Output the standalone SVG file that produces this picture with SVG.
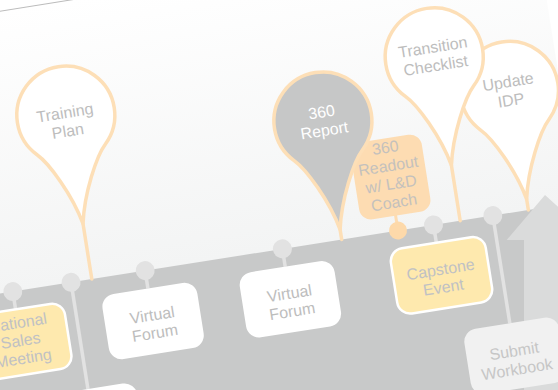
<svg xmlns="http://www.w3.org/2000/svg" width="558" height="390" viewBox="0 0 558 390">
  <defs>
    <linearGradient id="panelFill" gradientUnits="userSpaceOnUse" x1="0" y1="11" x2="0" y2="290">
      <stop offset="0" stop-color="#ffffff"/>
      <stop offset="1" stop-color="#f3f4f4"/>
    </linearGradient>
    <!-- balloon marker: round head with a tapering tail, head centred on 0,0 -->
    <path id="balloon" d="M0,110 C-6,80 -24,45 -34.65,34.65 A49,49 0 1 1 34.65,34.65 C24,45 6,80 0,110 Z"/>
  </defs>
  <style>
    text { font-family: "Liberation Sans", Arial, sans-serif; font-size: 16px; text-anchor: middle; fill: #bdbdbd; }
    .balloon { fill: #ffffff; stroke: #fddfb7; stroke-width: 3.5; stroke-linejoin: round; }
    .balloon.dark { fill: #c6c7c7; }
    .tail { stroke: #fddfb7; stroke-width: 3.5; stroke-linecap: round; }
    .knob { fill: #e2e2e2; }
    .knob.warm { fill: #fdd9aa; }
    .stem { stroke: #e2e2e2; stroke-width: 3.5; }
    .stem.warm { stroke: #fddcb2; stroke-width: 3; }
    .card { fill: #ffffff; }
    .card.hi { fill: #fee9ae; stroke: #ffffff; stroke-width: 2.5; }
    .card.muted { fill: #f1f1f1; }
    .card.warm { fill: #fddcb2; }
    .on-hi { fill: #c0c1c4; }
    .on-warm { fill: #c4c1bd; }
    .on-muted { fill: #c6c6c6; }
    .on-dark { fill: #ffffff; }
  </style>

  <rect width="558" height="390" fill="#ffffff"/>

  <!-- backdrop panel and the timeline track -->
  <g id="backdrop" transform="rotate(-9)">
    <rect x="-120" y="11" width="660" height="290" fill="url(#panelFill)"/>
    <line x1="-120" y1="11" x2="540" y2="11" stroke="#bcbcbc" stroke-width="1"/>
    <rect id="track" x="-120" y="290" width="620" height="260" fill="#c8c9c9"/>
  </g>

  <!-- upward arrow at the end of the track -->
  <polygon id="track-arrow" points="506.7,240 545,195 560,208.5 560,392 524,392 524,240" fill="#dadbdb"/>

  <g id="timeline" transform="rotate(-9)">
    <!-- balloons above the track -->
    <g id="training-plan">
      <use href="#balloon" class="balloon" transform="translate(47,124)"/>
      <line class="tail" x1="47" y1="234" x2="47" y2="290"/>
      <text x="46.5" y="127">Training</text>
      <text x="46.5" y="145.5">Plan</text>
    </g>

    <g id="update-idp">
      <use href="#balloon" class="balloon" transform="translate(489,169)"/>
      <line class="tail" x1="489" y1="279" x2="489" y2="290"/>
      <text x="489" y="165.7">Update</text>
      <text x="489" y="184.5">IDP</text>
    </g>

    <g id="transition-checklist">
      <use href="#balloon" class="balloon" transform="translate(420,124)"/>
      <line class="tail" x1="420" y1="234" x2="420" y2="290"/>
      <text x="420" y="119.8">Transition</text>
      <text x="420" y="138.4">Checklist</text>
    </g>

    <!-- connectors between track knobs and cards -->
    <g id="connectors">
      <line class="stem" x1="-33" y1="290" x2="-33" y2="308"/>
      <line class="stem" x1="26" y1="290" x2="26" y2="398"/>
      <line class="stem" x1="101" y1="290" x2="101" y2="308"/>
      <line class="stem" x1="240" y1="290" x2="240" y2="308"/>
      <line class="stem" x1="393" y1="290" x2="393" y2="308"/>
      <line class="stem" x1="453" y1="290" x2="453" y2="399"/>
      <line class="stem warm" x1="357" y1="274" x2="357" y2="290"/>
    </g>

    <!-- knobs sitting on the track edge -->
    <g id="knobs">
      <circle class="knob" cx="-33" cy="290" r="9.5"/>
      <circle class="knob" cx="26" cy="290" r="9.5"/>
      <circle class="knob" cx="101" cy="290" r="9.5"/>
      <circle class="knob" cx="240" cy="290" r="9.5"/>
      <circle class="knob" cx="393" cy="290" r="9.5"/>
      <circle class="knob" cx="453" cy="290" r="9.5"/>
      <circle class="knob warm" cx="357" cy="290" r="9"/>
    </g>

    <g id="readout-coach">
      <rect class="card warm" x="322" y="197" width="72" height="78" rx="12"/>
      <text class="on-warm" x="357.5" y="211.5">360</text>
      <text class="on-warm" x="357.5" y="230">Readout</text>
      <text class="on-warm" x="357.5" y="248.5">w/ L&amp;D</text>
      <text class="on-warm" x="357.5" y="267">Coach</text>
    </g>

    <g id="report-360">
      <use href="#balloon" class="balloon dark" transform="translate(300,170)"/>
      <line class="tail" x1="300" y1="280" x2="300" y2="290"/>
      <text class="on-dark" x="300" y="166.5">360</text>
      <text class="on-dark" x="300" y="185">Report</text>
    </g>

    <!-- cards below the track -->
    <g id="sales-meeting">
      <rect class="card hi" x="-81" y="308" width="96" height="66" rx="13"/>
      <text class="on-hi" x="-33" y="327">National</text>
      <text class="on-hi" x="-33" y="345">Sales</text>
      <text class="on-hi" x="-33" y="363">Meeting</text>
    </g>

    <g id="virtual-forum-1">
      <rect class="card" x="53" y="308" width="96" height="66" rx="13"/>
      <text x="101" y="340.5">Virtual</text>
      <text x="101" y="358.5">Forum</text>
    </g>

    <g id="virtual-forum-2">
      <rect class="card" x="192" y="308" width="96" height="66" rx="13"/>
      <text x="240" y="340.5">Virtual</text>
      <text x="240" y="358.5">Forum</text>
    </g>

    <g id="capstone-event">
      <rect class="card hi" x="345" y="308" width="96" height="66" rx="13"/>
      <text class="on-hi" x="393" y="340.5">Capstone</text>
      <text class="on-hi" x="393" y="358.5">Event</text>
    </g>

    <g id="lower-card">
      <rect class="card" x="-22" y="398" width="96" height="66" rx="13"/>
    </g>

    <g id="submit-workbook">
      <rect class="card muted" x="405" y="399" width="96" height="66" rx="13"/>
      <text class="on-muted" x="453" y="432.5">Submit</text>
      <text class="on-muted" x="453" y="451">Workbook</text>
    </g>
  </g>
</svg>
